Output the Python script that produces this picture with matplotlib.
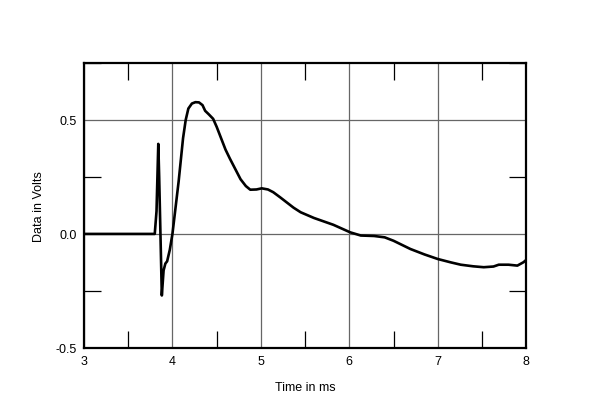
import numpy as np
import matplotlib.pyplot as plt
from matplotlib.ticker import MultipleLocator, FormatStrFormatter

plt.rcParams['font.family'] = ['Liberation Sans', 'DejaVu Sans']

# Impulse response
t_ms = [3.00, 3.80, 3.82, 3.84, 3.85, 3.88, 3.90, 3.92, 3.94, 3.97,
        4.00, 4.07, 4.12, 4.15, 4.18, 4.22, 4.26, 4.30, 4.34, 4.37,
        4.41, 4.46, 4.50, 4.55, 4.60, 4.65, 4.69, 4.73, 4.77, 4.83,
        4.88, 4.95, 5.01, 5.08, 5.14, 5.22, 5.29, 5.37, 5.45, 5.60,
        5.82, 6.01, 6.13, 6.28, 6.40, 6.50, 6.69, 6.85, 7.00, 7.15,
        7.26, 7.40, 7.52, 7.63, 7.69, 7.80, 7.90, 7.97, 8.00]
volts = [0.0, 0.0, 0.10, 0.395, 0.25, -0.27, -0.16, -0.13, -0.12, -0.07,
         0.00, 0.23, 0.42, 0.50, 0.55, 0.572, 0.578, 0.577, 0.565, 0.54,
         0.525, 0.505, 0.47, 0.42, 0.37, 0.33, 0.30, 0.27, 0.24, 0.21,
         0.194, 0.195, 0.20, 0.195, 0.183, 0.16, 0.139, 0.115, 0.095, 0.07,
         0.04, 0.007, -0.007, -0.009, -0.015, -0.03, -0.066, -0.09, -0.11, -0.125,
         -0.135, -0.142, -0.146, -0.143, -0.135, -0.135, -0.139, -0.124, -0.114]

fig = plt.figure(figsize=(6, 4.1), dpi=100)
ax = fig.add_axes([0.140, 0.149, 0.737, 0.695])

ax.plot(t_ms, volts, color='black', lw=1.9, solid_joinstyle='round', zorder=3)

ax.set_xlim(3, 8)
ax.set_ylim(-0.5, 0.75)
ax.xaxis.set_major_locator(MultipleLocator(1))
ax.xaxis.set_minor_locator(MultipleLocator(0.5))
ax.yaxis.set_major_locator(MultipleLocator(0.5))
ax.yaxis.set_minor_locator(MultipleLocator(0.25))
ax.yaxis.set_major_formatter(FormatStrFormatter('%.1f'))

ax.grid(which='major', color='#666666', lw=0.9)
ax.tick_params(which='major', length=0, labelsize=9, pad=5)
ax.tick_params(which='minor', direction='in', length=12, width=0.9,
               top=True, right=True)
for s in ax.spines.values():
    s.set_linewidth(1.6)

ax.set_xlabel('Time in ms', fontsize=9, labelpad=10)
ax.set_ylabel('Data in Volts', fontsize=9, labelpad=8)

fig.savefig('out.png', dpi=100)
